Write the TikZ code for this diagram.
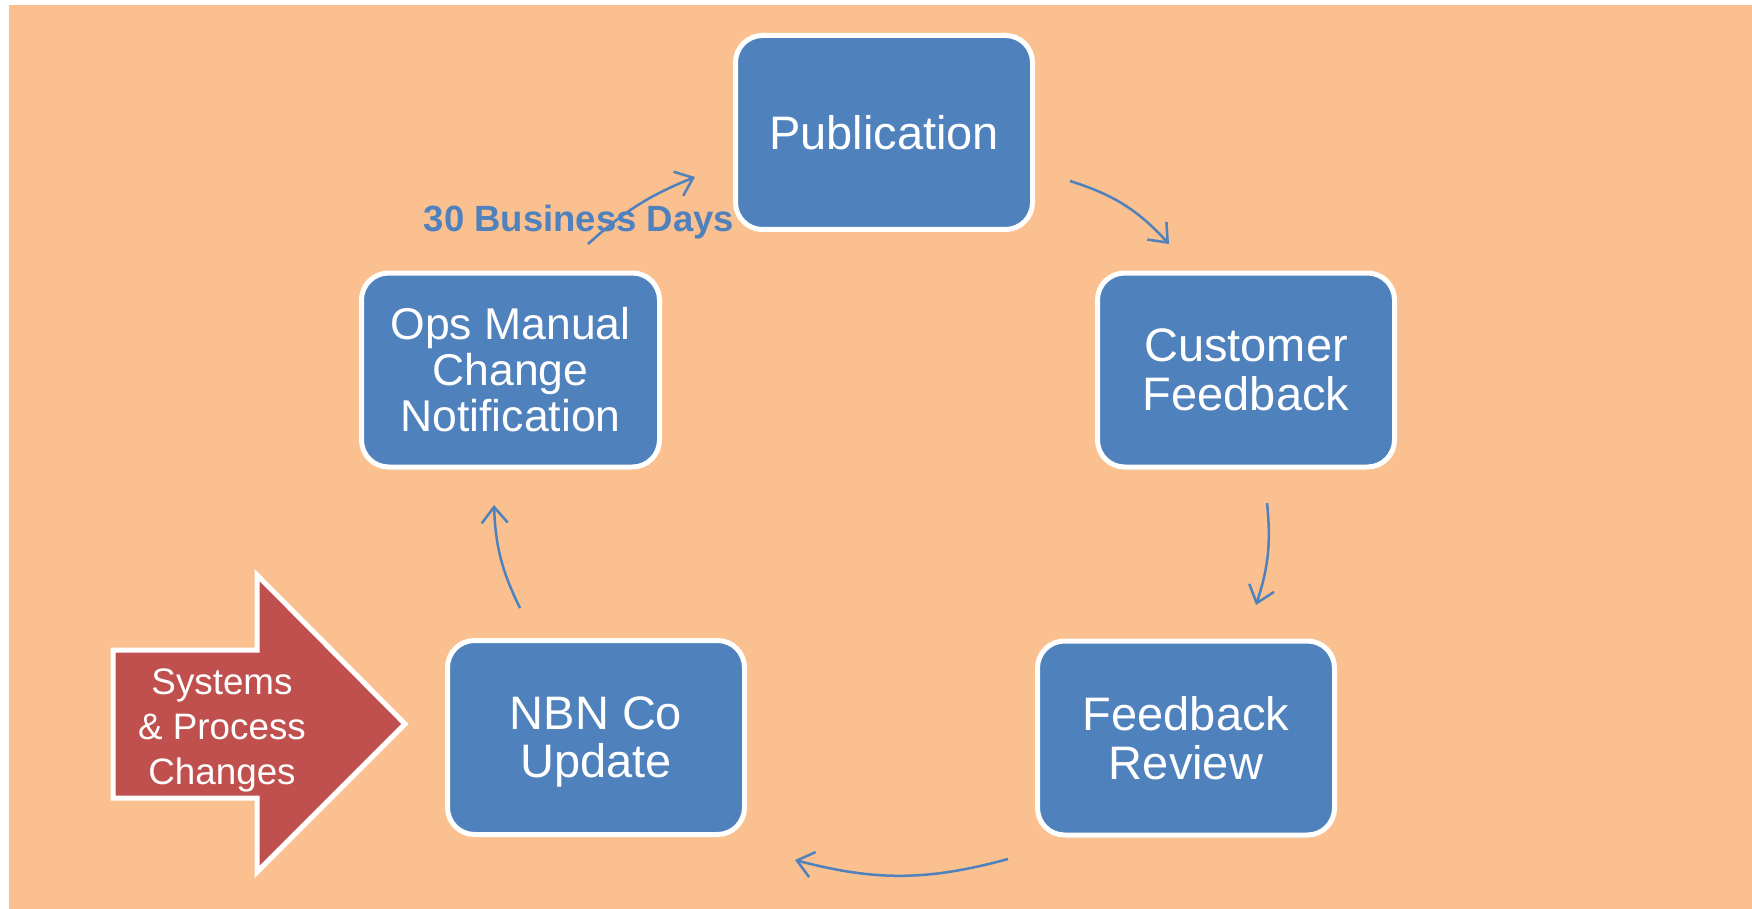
\documentclass[tikz,border=0pt]{standalone}
\usepackage{fontspec}
\setmainfont{Liberation Sans}
\usetikzlibrary{arrows.meta}

\definecolor{bgorange}{HTML}{FAC090}
\definecolor{stepblue}{HTML}{4F81BD}
\definecolor{inred}{HTML}{C0504D}

\tikzset{
  stepbox/.style={rectangle, rounded corners=27pt, fill=stepblue, draw=white,
    line width=5pt, inner sep=0pt, minimum width=297pt, minimum height=194pt,
    text=white, align=center, font=\fontsize{47}{48.6}\selectfont},
  cyclearrow/.style={draw=stepblue, line width=2.5pt,
    -{Straight Barb[length=16pt,width=26pt,line width=2.5pt]}},
}

\begin{document}
\begin{tikzpicture}[x=1pt,y=-1pt]
  % canvas and background panel
  \useasboundingbox (0,0) rectangle (1752,909);
  \fill[white] (0,0) rectangle (1752,909);
  \fill[bgorange] (9,5) rectangle (1752,909);

  % process steps
  \node[stepbox] (pub)  at (884,132.5) {Publication};
  \node[stepbox] (cust) at (1246,370) {Customer\\Feedback};
  \node[stepbox] (rev)  at (1186,738) {Feedback\\Review};
  \node[stepbox] (nbn)  at (596,737.5) {};
  \node[text=white, align=center, font=\fontsize{47}{48.6}\selectfont]
    (nbntext) at (596,742) {NBN Co\\Update};
  \node[stepbox, minimum width=298pt, font=\fontsize{44.5}{46}\selectfont]
    (ops) at (510.5,370) {Ops Manual\\Change\\Notification};

  % input arrow
  \draw[fill=inred, draw=white, line width=5pt, line join=miter]
    (113,650) -- (257,650) -- (257,575) -- (405,724) -- (257,872)
    -- (257,798) -- (113,798) -- cycle;
  \node[text=white, align=center, font=\fontsize{36.8}{45}\selectfont]
    (input) at (222,730) {Systems\\\& Process\\Changes};

  % duration label
  \node[anchor=base, text=stepblue, font=\bfseries\fontsize{36.5}{40}\selectfont]
    (days) at (579,232) {30 Business Days};

  % arc end points between the steps
  \coordinate (o1) at (588,244);  \coordinate (p1) at (695,177);
  \coordinate (p2) at (1070,181); \coordinate (c2) at (1169,244);
  \coordinate (c3) at (1267,503); \coordinate (r3) at (1256,605);
  \coordinate (r4) at (1008,859); \coordinate (n4) at (795,860);
  \coordinate (n5) at (520,608);  \coordinate (o5) at (494,505);

  % cycle connectors
  \draw[cyclearrow] (o1) to[bend left=10] (p1);
  \draw[cyclearrow] (p2) to[bend left=15] (c2);
  \draw[cyclearrow] (c3) to[bend left=12] (r3);
  \draw[cyclearrow] (r4) to[bend left=15] (n4);
  \draw[cyclearrow] (n5) to[bend left=12] (o5);
\end{tikzpicture}
\end{document}
